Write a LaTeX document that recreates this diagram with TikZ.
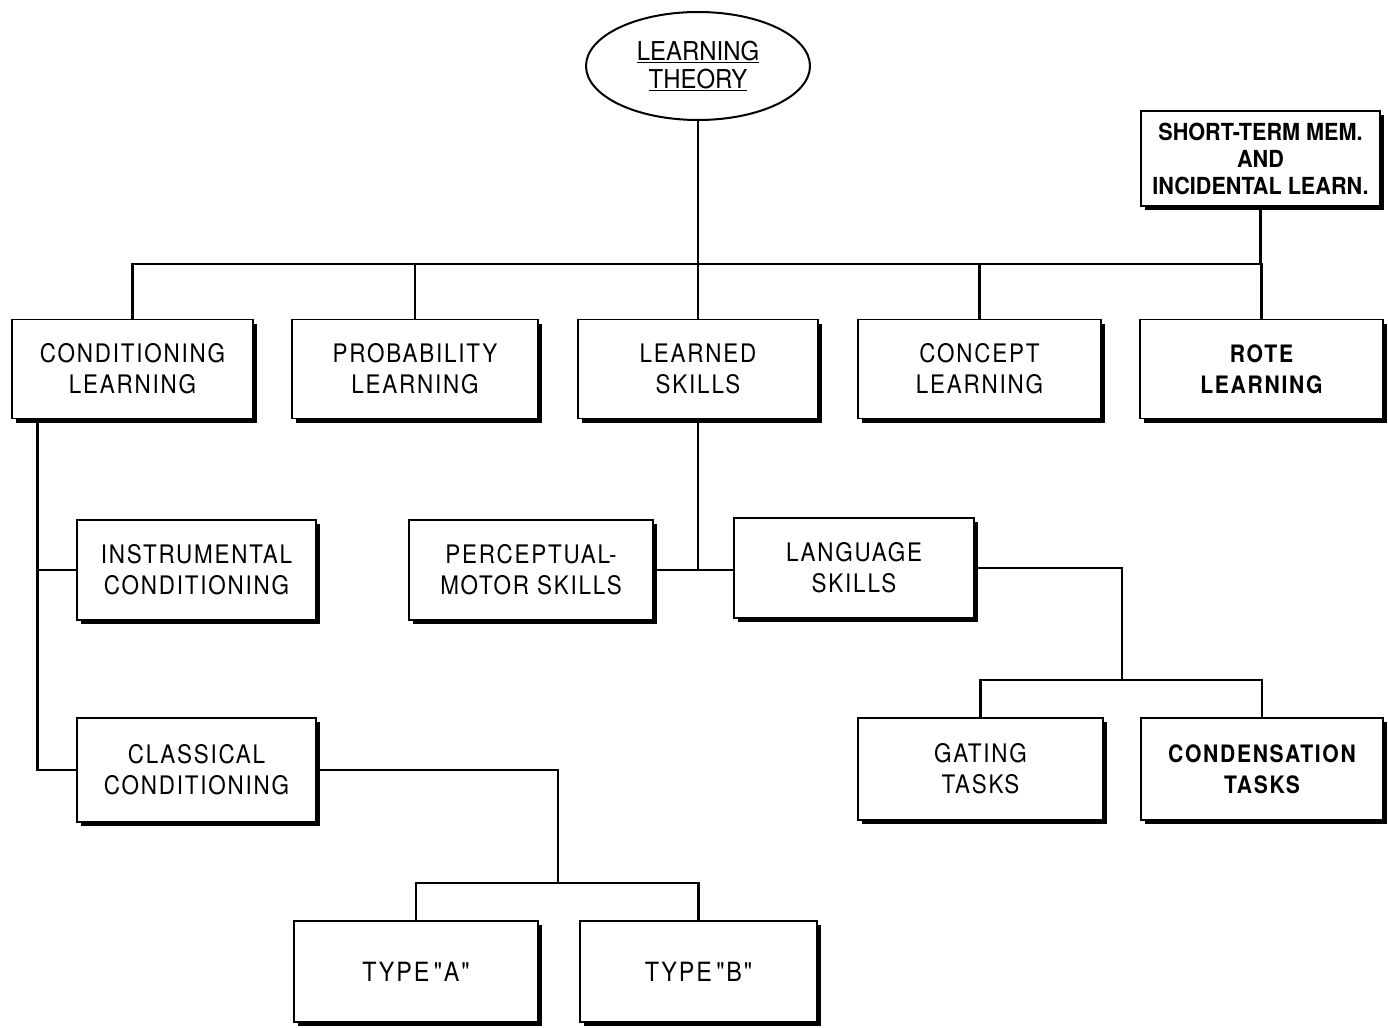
\documentclass[tikz,border=0pt]{standalone}
\usepackage{fontspec}
\usetikzlibrary{shadows,shapes.geometric}
\newfontfamily\boxfont[LetterSpace=7,FakeStretch=0.88]{TeX Gyre Heros}
\newfontfamily\tightfont[FakeStretch=0.92]{TeX Gyre Heros}
\tikzset{
  box/.style={draw, line width=1.3pt, fill=white, align=center, inner sep=0pt,
    minimum width=241pt, minimum height=99pt,
    drop shadow={shadow xshift=4pt, shadow yshift=-4pt, fill=black, opacity=1},
    font=\boxfont\fontsize{25.5}{31}\selectfont},
  conn/.style={line width=2.3pt},
}
\begin{document}
\begin{tikzpicture}[x=1pt,y=1pt]
\useasboundingbox (0,0) rectangle (1388,-1027);
% root
\node[draw, ellipse, line width=2pt, minimum width=224pt, minimum height=108pt, inner sep=0pt,
  align=center, font=\tightfont\fontsize{26}{28}\selectfont] (lt) at (698,-66)
  {\underline{LEARNING}\\\underline{THEORY}};
% short term
\node[box, minimum width=239pt, minimum height=95pt, font=\tightfont\bfseries\fontsize{23.5}{27}\selectfont] (stm) at (1260.5,-158.5)
  {SHORT-TERM MEM.\\AND\\INCIDENTAL LEARN.};
% second row
\node[box] (cond) at (132.5,-369) {CONDITIONING\\LEARNING};
\node[box, minimum width=246pt] (prob) at (415,-369) {PROBABILITY\\LEARNING};
\node[box, minimum width=240pt] (skills) at (698,-369) {LEARNED\\SKILLS};
\node[box, minimum width=243pt] (concept) at (979.5,-369) {CONCEPT\\LEARNING};
\node[box, minimum width=243pt, font=\boxfont\bfseries\fontsize{24}{31}\selectfont] (rote) at (1261.5,-369) {ROTE\\LEARNING};
% third row
\node[box, minimum width=239pt, minimum height=100pt] (instr) at (196.5,-570) {INSTRUMENTAL\\CONDITIONING};
\node[box, minimum width=244pt, minimum height=100pt] (percep) at (531,-570) {PERCEPTUAL-\\MOTOR SKILLS};
\node[box, minimum width=240pt, minimum height=100pt] (lang) at (854,-568) {LANGUAGE\\SKILLS};
% fourth row
\node[box, minimum width=239pt, minimum height=104pt] (class) at (196.5,-770) {CLASSICAL\\CONDITIONING};
\node[box, minimum width=245pt, minimum height=102pt] (gating) at (980.5,-769) {GATING\\TASKS};
\node[box, minimum width=242pt, minimum height=102pt, font=\boxfont\bfseries\fontsize{24}{31}\selectfont] (condens) at (1262,-769) {CONDENSATION\\TASKS};
% fifth row
\node[box, minimum width=244pt, minimum height=101pt, font=\boxfont\fontsize{26.5}{31}\selectfont] (typea) at (416,-971.5) {TYPE\,"A"};
\node[box, minimum width=237pt, minimum height=101pt, font=\boxfont\fontsize{26.5}{31}\selectfont] (typeb) at (698.5,-971.5) {TYPE\,"B"};
% junction coordinates
\coordinate (bus) at (0,-264);
\coordinate (lj) at (1122,-680);
\coordinate (cj) at (558,-883);
\coordinate (cl) at ([xshift=26pt]cond.south west);
% connectors
\draw[conn] (lt.south) -- (skills.north);
\draw[conn] (cond.north) |- (rote.north |- bus) -- (rote.north);
\draw[conn] (prob.north) -- (prob.north |- bus);
\draw[conn] (concept.north) -- (concept.north |- bus);
\draw[conn] (stm.south) -- (stm.south |- bus);
\draw[conn] (cl) |- (instr.west);
\draw[conn] (cl) |- (class.west);
\draw[conn] (skills.south) -- (skills.south |- percep.east);
\draw[conn] (percep.east) -- (percep.east -| lang.west);
\draw[conn] (lang.east) -| (lj);
\draw[conn] (gating.north) |- (lj) -| (condens.north);
\draw[conn] (class.east) -| (cj);
\draw[conn] (typea.north) |- (cj) -| (typeb.north);
\end{tikzpicture}
\end{document}
